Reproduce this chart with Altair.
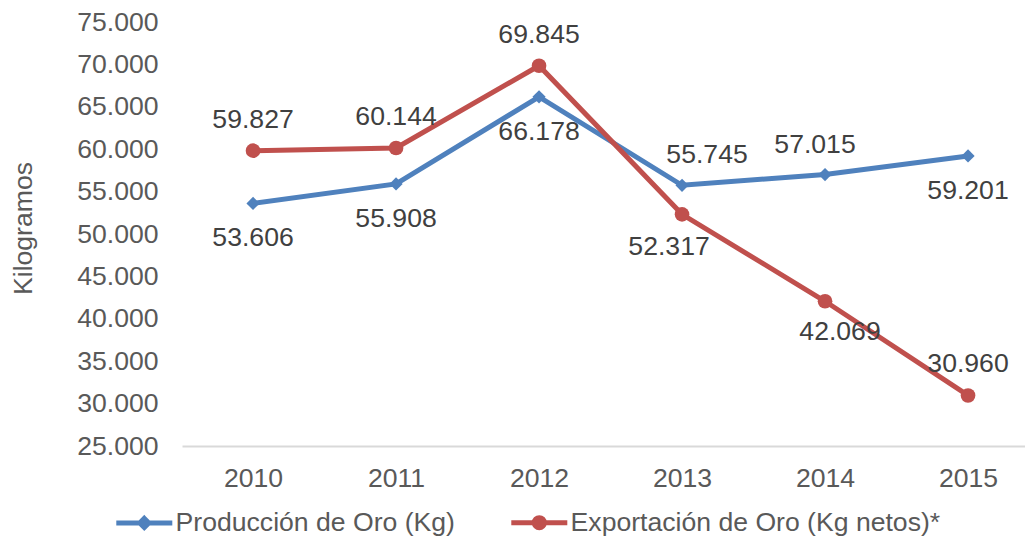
import altair as alt
import pandas as pd

years = ["2010", "2011", "2012", "2013", "2014", "2015"]
produccion = [53606, 55908, 66178, 55745, 57015, 59201]
exportacion = [59827, 60144, 69845, 52317, 42069, 30960]
series = ["Producción de Oro (Kg)", "Exportación de Oro (Kg netos)*"]
colors = ["#4F81BD", "#C0504D"]
y_ticks = [25000, 30000, 35000, 40000, 45000, 50000, 55000, 60000, 65000, 70000, 75000]

# Label placement (as in the original Excel chart): pixel offsets
prod_label_dx = [0, 0, 0, 25, -10, 0]
prod_label_dy = [35, 35, 35, -30, -30, 35]
exp_label_dx = [0, 0, 0, -13, 15, 0]
exp_label_dy = [-31, -31, -31, 33, 31, -31]

FONT = "Liberation Sans, Arial, sans-serif"
FS = 26.6

df = pd.DataFrame({
    "Año": years * 2,
    "Serie": [series[0]] * len(years) + [series[1]] * len(years),
    "Valor": produccion + exportacion,
})

x_enc = alt.X(
    "Año:O",
    scale=alt.Scale(type="point", domain=years, padding=0.4476, align=0.555),
    axis=alt.Axis(
        title=None, labelAngle=0, ticks=False, tickSize=0, labelPadding=19,
        domainColor="#D9D9D9", domainWidth=2, labelFontSize=FS,
        labelColor="#595959", labelFont=FONT, grid=False,
    ),
)
y_enc = alt.Y(
    "Valor:Q",
    scale=alt.Scale(domain=[25000, 75000], nice=False, zero=False),
    axis=alt.Axis(
        values=y_ticks,
        labelExpr="replace(format(datum.value, ',.0f'), ',', '.')",
        title="Kilogramos", grid=False, domain=False, ticks=False, tickSize=0,
        labelPadding=24, titlePadding=39, titleY=206, labelFontSize=FS,
        labelColor="#595959", labelFont=FONT, titleFontSize=FS,
        titleColor="#595959", titleFont=FONT, titleFontWeight="normal",
    ),
)

base = alt.Chart(df).transform_calculate(
    Etiqueta="replace(format(datum.Valor, ',.0f'), ',', '.')"
)

layers = []
shapes_marker = ["diamond", "circle"]
sizes_marker = [175, 215]
for i, s in enumerate(series):
    sub = base.transform_filter(alt.datum.Serie == s)
    layers.append(
        sub.mark_line(color=colors[i], strokeWidth=5).encode(x=x_enc, y=y_enc)
    )
    layers.append(
        sub.mark_point(filled=True, opacity=1, color=colors[i],
                       shape=shapes_marker[i], size=sizes_marker[i]).encode(x=x_enc, y=y_enc)
    )

label_layout = [(prod_label_dx, prod_label_dy), (exp_label_dx, exp_label_dy)]
for i, s in enumerate(series):
    dxs, dys = label_layout[i]
    for j, yr in enumerate(years):
        layers.append(
            base.transform_filter((alt.datum.Serie == s) & (alt.datum["Año"] == yr))
            .mark_text(font=FONT, fontSize=FS, color="#404040", align="center",
                       baseline="middle", dx=dxs[j], dy=dys[j])
            .encode(x=x_enc, y=y_enc, text="Etiqueta:N")
        )

legend_paths = [
    "M-2.8,0L2.8,0M0,-0.45L0.45,0L0,0.45L-0.45,0Z",
    "M-2.8,0L2.8,0M-0.5,0A0.5,0.5,0,1,1,0.5,0A0.5,0.5,0,1,1,-0.5,0Z",
]
leg = dict(
    title=None, orient="none", legendX=-51, legendY=487, direction="horizontal",
    symbolSize=400, symbolStrokeWidth=5, labelOffset=18, columnPadding=46,
    labelFontSize=FS, labelColor="#595959", labelFont=FONT, labelLimit=800,
)
legend_layer = alt.Chart(df).mark_point(
    filled=True, clip=True, opacity=1, strokeWidth=5, size=400
).encode(
    x=x_enc,
    y=alt.value(-2000),
    fill=alt.Fill("Serie:N", scale=alt.Scale(domain=series, range=colors), legend=alt.Legend(**leg)),
    stroke=alt.Stroke("Serie:N", scale=alt.Scale(domain=series, range=colors), legend=alt.Legend(**leg)),
    shape=alt.Shape("Serie:N", scale=alt.Scale(domain=series, range=legend_paths), legend=alt.Legend(**leg)),
)
layers.append(legend_layer)

chart = alt.layer(*layers).properties(
    width=843, height=424,
    autosize=alt.AutoSizeParams(type="none"),
    padding={"left": 174, "top": 14, "right": 0, "bottom": 90},
    background="white",
).configure_view(stroke=None)

chart.save("out.html", embed_options={"renderer": "svg", "actions": False})
